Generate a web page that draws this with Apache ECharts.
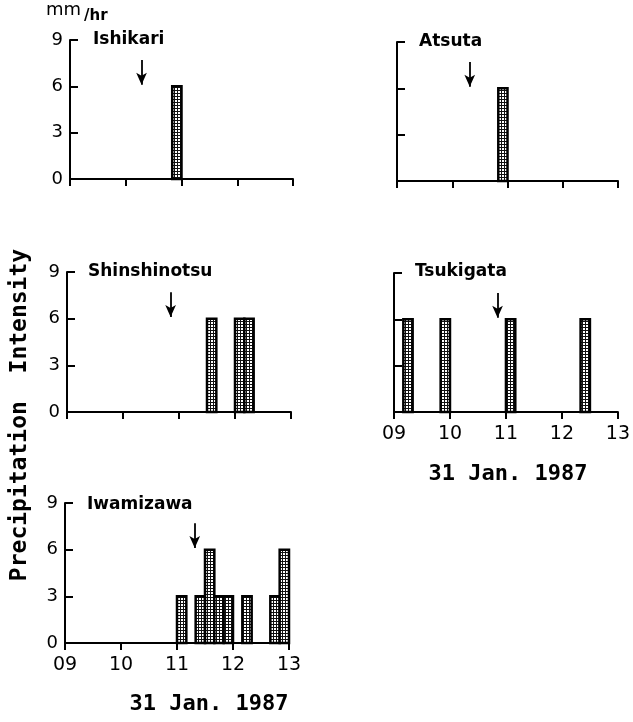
<!DOCTYPE html>
<html>
<head>
<meta charset="utf-8">
<script src="https://cdn.jsdelivr.net/npm/echarts@6/dist/echarts.min.js"></script>
<style>html,body{margin:0;padding:0;background:#fff;}#c{width:633px;height:722px;}</style>
</head>
<body>
<div id="c"></div>
<script>
// ---- data ----
const stations = ['Ishikari', 'Atsuta', 'Shinshinotsu', 'Tsukigata', 'Iwamizawa'];
const ishikariStart = ['10:50'];
const ishikariValue = [6];
const atsutaStart = ['10:50'];
const atsutaValue = [6];
const shinshinotsuStart = ['11:30', '12:00', '12:10'];
const shinshinotsuValue = [6, 6, 6];
const tsukigataStart = ['09:10', '09:50', '11:00', '12:20'];
const tsukigataValue = [6, 6, 6, 6];
const iwamizawaStart = ['11:00', '11:20', '11:30', '11:40', '11:50', '12:10', '12:40', '12:50'];
const iwamizawaValue = [3, 3, 6, 3, 3, 3, 3, 6];
const arrowTimes = ['10:17', '10:19', '10:51', '10:51', '11:19'];
const xTickLabels = ['09', '10', '11', '12', '13'];
const yTickLabels = ['0', '3', '6', '9'];
const barMinutes = 10;
const unitLabel = ['mm', '/hr'];
const yTitle = 'Precipitation  Intensity';
const dateLabel = '31 Jan. 1987';

const starts = [ishikariStart, atsutaStart, shinshinotsuStart, tsukigataStart, iwamizawaStart];
const values = [ishikariValue, atsutaValue, shinshinotsuValue, tsukigataValue, iwamizawaValue];

function toMin(s) { const p = s.split(':'); return (+p[0] - 9) * 60 + (+p[1]); }

// stipple pattern
const pat = document.createElement('canvas');
pat.width = 3; pat.height = 3;
const pc = pat.getContext('2d');
pc.fillStyle = '#111'; pc.fillRect(0, 0, 3, 3);
pc.fillStyle = '#fff'; pc.fillRect(1, 1, 2, 2);

const grids = [
  { left: 70, top: 40, width: 223, height: 139 },
  { left: 397, top: 42, width: 221, height: 139 },
  { left: 67, top: 272, width: 224, height: 140 },
  { left: 394, top: 273, width: 224, height: 139 },
  { left: 65, top: 503, width: 224, height: 140 }
];
const showX = [false, false, false, true, true];
const showY = [true, false, true, false, true];

const mono = '"DejaVu Sans Mono", monospace';
const sans = '"DejaVu Sans", sans-serif';

const xAxes = grids.map((g, i) => ({
  type: 'value', gridIndex: i, min: 0, max: 240, interval: 60,
  axisLine: { lineStyle: { color: '#000', width: 2 } },
  axisTick: { show: true, inside: false, length: 7, lineStyle: { color: '#000', width: 2 } },
  axisLabel: { show: showX[i], margin: 13, color: '#000', fontSize: 19, fontFamily: sans,
    formatter: v => xTickLabels[Math.round(v / 60)] },
  splitLine: { show: false }
}));
const yAxes = grids.map((g, i) => ({
  type: 'value', gridIndex: i, min: 0, max: 9, interval: 3,
  axisLine: { show: true, lineStyle: { color: '#000', width: 2 } },
  axisTick: { show: true, inside: true, length: 8, lineStyle: { color: '#000', width: 2 } },
  axisLabel: { show: showY[i], margin: 7, color: '#000', fontSize: 18, fontFamily: sans,
    formatter: v => yTickLabels[Math.round(v / 3)] },
  splitLine: { show: false }
}));

const series = grids.map((g, i) => ({
  type: 'custom', xAxisIndex: i, yAxisIndex: i,
  data: starts[i].map((s, k) => [toMin(s), values[i][k]]),
  renderItem: function (params, api) {
    const t = api.value(0), v = api.value(1);
    const p0 = api.coord([t, v]);
    const p1 = api.coord([t + barMinutes, 0]);
    return {
      type: 'rect',
      shape: { x: p0[0], y: p0[1], width: p1[0] - p0[0], height: p1[1] - p0[1] },
      style: { fill: { image: pat, repeat: 'repeat' }, stroke: '#000', lineWidth: 2.5 }
    };
  },
  markLine: {
    silent: true, animation: false,
    symbol: ['none', 'arrow'], symbolSize: [8, 12],
    lineStyle: { color: '#000', width: 1.8, type: 'solid' },
    label: { show: false },
    data: [[{ coord: [toMin(arrowTimes[i]), 7.7] }, { coord: [toMin(arrowTimes[i]), 6.1] }]]
  },
  animation: false
}));

const stationPos = [[93, 40], [419, 42], [88, 272], [415, 272], [87, 505]];
const graphic = stations.map((s, i) => ({
  type: 'text', x: stationPos[i][0], y: stationPos[i][1],
  style: { text: s, fontSize: 17, fontWeight: 'bold', fontFamily: sans, fill: '#000', align: 'left', verticalAlign: 'middle' }
}));
graphic.push({ type: 'text', x: 46, y: 19, style: { text: unitLabel[0], fontSize: 18, fontFamily: sans, fill: '#000', verticalAlign: 'bottom' } });
graphic.push({ type: 'text', x: 84, y: 24, style: { text: unitLabel[1], fontSize: 15, fontFamily: sans, fontWeight: 'bold', fill: '#000', verticalAlign: 'bottom' } });
graphic.push({ type: 'text', x: 20, y: 415, rotation: Math.PI / 2,
  style: { text: yTitle, fontSize: 23, fontWeight: 'bold', fontFamily: mono, fill: '#000', align: 'center', verticalAlign: 'middle' } });
graphic.push({ type: 'text', x: 508, y: 474,
  style: { text: dateLabel, fontSize: 22, fontWeight: 'bold', fontFamily: mono, fill: '#000', align: 'center', verticalAlign: 'middle' } });
graphic.push({ type: 'text', x: 209, y: 704,
  style: { text: dateLabel, fontSize: 22, fontWeight: 'bold', fontFamily: mono, fill: '#000', align: 'center', verticalAlign: 'middle' } });

const chart = echarts.init(document.getElementById('c'), null, { renderer: 'canvas' });
chart.setOption({
  backgroundColor: '#fff',
  animation: false,
  grid: grids,
  xAxis: xAxes,
  yAxis: yAxes,
  series: series,
  graphic: graphic
});
</script>
</body>
</html>
